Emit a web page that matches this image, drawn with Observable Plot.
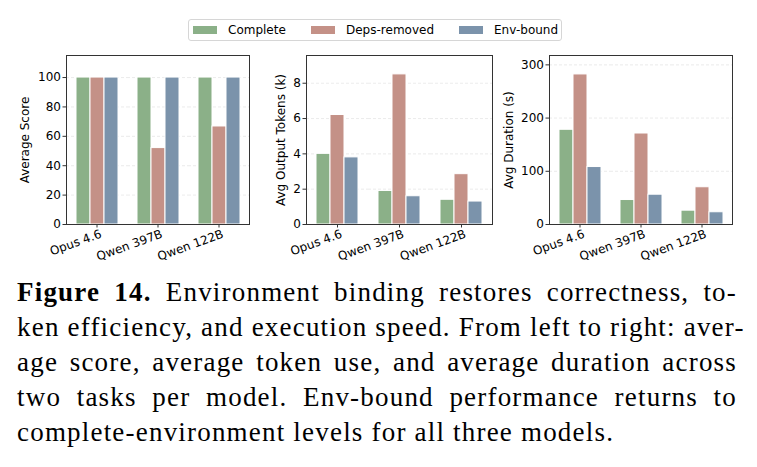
<!DOCTYPE html>
<html>
<head>
<meta charset="utf-8">
<script src="https://cdn.jsdelivr.net/npm/d3@7"></script>
<script src="https://cdn.jsdelivr.net/npm/@observablehq/plot@0.6"></script>
<style>
  html, body { margin: 0; padding: 0; background: white; }
  #root { position: relative; width: 757px; height: 467px; overflow: hidden; background: white; }
  .panel { position: absolute; top: 48px; }
  #legend { position: absolute; left: 188px; top: 19px; width: 372px; height: 20px;
    border: 1px solid #d6d6d6; border-radius: 3px; font-family: "DejaVu Sans"; font-size: 12px; color: black; }
  .item { position: absolute; top: 0; height: 20px; line-height: 20px; }
  .sw { position: absolute; top: 6px; width: 24px; height: 8px; }
  .lab { position: absolute; left: 35px; top: 0; white-space: nowrap; }
  #caption { position: absolute; left: 17px; top: 275px; width: 720px;
    font-family: "Liberation Serif", serif; font-size: 27px; letter-spacing: 1.2px; line-height: 35px; color: black; }
  .line { white-space: nowrap; text-align: justify; text-align-last: justify; }
  .line.last { text-align-last: left; }
</style>
</head>
<body>
<div id="root">
  <div id="legend"></div>
  <div id="p1" class="panel" style="left:0px"></div>
  <div id="p2" class="panel" style="left:252px"></div>
  <div id="p3" class="panel" style="left:496px"></div>
  <div id="caption"></div>
</div>
<script>
// ---- data ----
const models = ["Opus 4.6", "Qwen 397B", "Qwen 122B"];
const conditions = ["Complete", "Deps-removed", "Env-bound"];
const colors = ["#8bb088", "#c49187", "#7b93ab"];

const scoreComplete = [100, 100, 100];
const scoreDeps = [100, 52, 66.7];
const scoreEnv = [100, 100, 100];

const tokensComplete = [4.0, 1.9, 1.4];
const tokensDeps = [6.2, 8.5, 2.85];
const tokensEnv = [3.8, 1.6, 1.3];

const durationComplete = [178, 46, 26];
const durationDeps = [282, 171, 70];
const durationEnv = [108, 56, 23];

const scoreTicks = [0, 20, 40, 60, 80, 100];
const tokenTicks = [0, 2, 4, 6, 8];
const durationTicks = [0, 100, 200, 300];

const captionBold = "Figure 14.";
const captionLines = [
  " Environment binding restores correctness, to-",
  "ken efficiency, and execution speed. From left to right: aver-",
  "age score, average token use, and average duration across",
  "two tasks per model. Env-bound performance returns to",
  "complete-environment levels for all three models."
];

function rowsOf(series) {
  const rows = [];
  models.forEach((m, i) => series.forEach((s, j) => rows.push({model: m, cond: conditions[j], value: s[i]})));
  return rows;
}

function panel(rows, o) {
  return Plot.plot({
    width: o.width, height: 216,
    marginTop: 7, marginBottom: 40, marginLeft: o.marginLeft, marginRight: o.marginRight,
    style: {fontFamily: "DejaVu Sans", fontSize: "12px", color: "black", background: "white", overflow: "visible"},
    fx: {domain: models, padding: 0, label: null},
    x: {domain: conditions, paddingInner: 0, paddingOuter: 0.59, axis: null},
    y: {domain: o.yDomain},
    color: {domain: conditions, range: colors},
    marks: [
      Plot.gridY(o.ticks, {stroke: "#cccccc", strokeOpacity: 0.5, strokeDasharray: "3,2", strokeWidth: 0.8}),
      Plot.barY(rows, {fx: "model", x: "cond", y: "value", fill: "cond", stroke: "white", strokeWidth: 1}),
      Plot.axisY({ticks: o.ticks, tickSize: 3.5, tickPadding: 2, fontSize: 12, stroke: "#333",
        label: o.label, labelAnchor: "center", labelArrow: "none", labelOffset: o.labelOffset}),
      Plot.axisFx({anchor: "bottom", tickSize: 3.5, tickFormat: () => "", stroke: "#333", label: null}),
      Plot.axisFx({anchor: "bottom", tickSize: 0, tickPadding: 5, tickRotate: -20, fontSize: 12, dx: 4, dy: 4, label: null}),
      Plot.frame({facet: "super", stroke: "#333333", strokeWidth: 1})
    ]
  });
}

document.getElementById("p1").appendChild(panel(rowsOf([scoreComplete, scoreDeps, scoreEnv]),
  {width: 252, marginLeft: 65, marginRight: 3, yDomain: [0, 115], ticks: scoreTicks, label: "Average Score", labelOffset: 46}));
document.getElementById("p2").appendChild(panel(rowsOf([tokensComplete, tokensDeps, tokensEnv]),
  {width: 244, marginLeft: 54, marginRight: 4, yDomain: [0, 9.57], ticks: tokenTicks, label: "Avg Output Tokens (k)", labelOffset: 30}));
document.getElementById("p3").appendChild(panel(rowsOf([durationComplete, durationDeps, durationEnv]),
  {width: 261, marginLeft: 52, marginRight: 25, yDomain: [0, 317.6], ticks: durationTicks, label: "Avg Duration (s)", labelOffset: 45}));

// legend
const legend = document.getElementById("legend");
const itemLeft = [4, 122, 270];
conditions.forEach((c, i) => {
  const it = document.createElement("div");
  it.className = "item";
  it.style.left = itemLeft[i] + "px";
  it.innerHTML = `<div class="sw" style="background:${colors[i]}"></div><div class="lab">${c}</div>`;
  legend.appendChild(it);
});

// caption
const cap = document.getElementById("caption");
captionLines.forEach((t, i) => {
  const d = document.createElement("div");
  d.className = "line" + (i === captionLines.length - 1 ? " last" : "");
  if (i === 0) {
    const b = document.createElement("b");
    b.textContent = captionBold;
    d.appendChild(b);
  }
  d.appendChild(document.createTextNode(t));
  cap.appendChild(d);
});
</script>
</body>
</html>
